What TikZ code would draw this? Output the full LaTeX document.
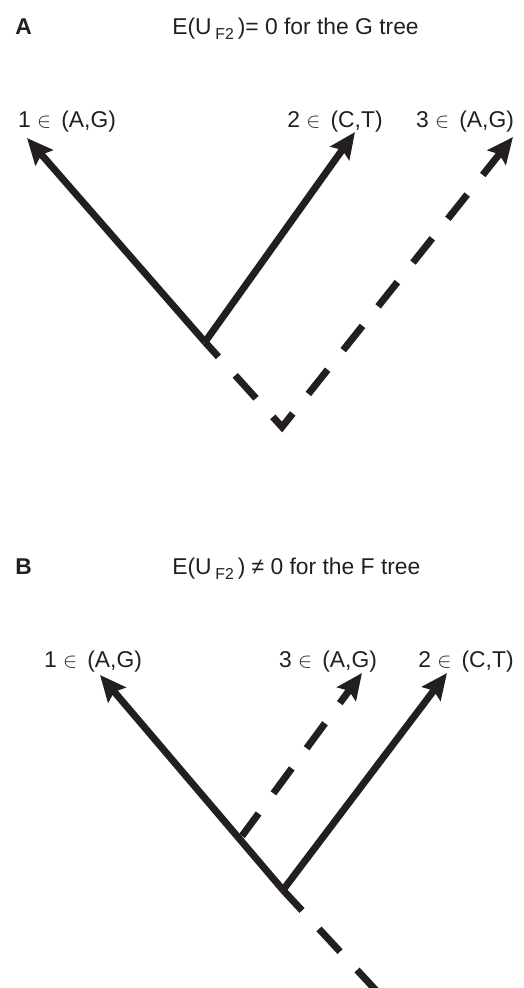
\documentclass[tikz,border=0pt]{standalone}
\usepackage{fontspec}
\setmainfont{Liberation Sans}
\usetikzlibrary{arrows.meta}
\definecolor{tinta}{RGB}{35,31,32}
\begin{document}
\begin{tikzpicture}[x=0.02cm, y=-0.02cm,
  rama/.style={line width=0.14cm, draw=tinta,
    -{Stealth[length=0.52cm, width=0.46cm, inset=0.08cm]}},
  rayas/.style={dash pattern=on 0.62cm off 0.5cm},
  texto/.style={inner sep=0pt, text=tinta, font=\fontsize{13}{15}\selectfont},
  etiqueta/.style={texto, anchor=base},
  titulo/.style={texto, anchor=base west}]
  \useasboundingbox (0,0) rectangle (524,988);
  % Panel A: arbol G
  \node[titulo, font=\fontsize{13}{15}\selectfont\bfseries] (letraA) at (15,34) {A};
  \node[titulo] (tituloA) at (172,34)
    {E(U\,\raisebox{-0.45ex}{\fontsize{9}{10}\selectfont F2}\,)= 0 for the G tree};
  \node[etiqueta] (etA1) at (67,127) {1 $\in$ \,(A,G)};
  \node[etiqueta] (etA2) at (335,127) {2 $\in$ \,(C,T)};
  \node[etiqueta] (etA3) at (465,127) {3 $\in$ \,(A,G)};
  \coordinate (a1) at (27,138);
  \coordinate (a2) at (355,132);
  \coordinate (a3) at (513,137);
  \coordinate (anudo) at (205,342);
  \coordinate (araiz) at (282,427);
  \draw[rama] (anudo) -- (a1);
  \draw[rama] (anudo) -- (a2);
  \draw[rama, rayas, dash phase=0.22cm] (anudo) -- (araiz) -- (a3); % rama 3 discontinua
  % Panel B: arbol F
  \node[titulo, font=\fontsize{13}{15}\selectfont\bfseries] (letraB) at (15,574) {B};
  \node[titulo] (tituloB) at (172,574)
    {E(U\,\raisebox{-0.45ex}{\fontsize{9}{10}\selectfont F2}\,) ≠ 0 for the F tree};
  \node[etiqueta] (etB1) at (93,667) {1 $\in$ \,(A,G)};
  \node[etiqueta] (etB3) at (328,667) {3 $\in$ \,(A,G)};
  \node[etiqueta] (etB2) at (466,667) {2 $\in$ \,(C,T)};
  \coordinate (b1) at (100,675);
  \coordinate (b3) at (362,673);
  \coordinate (b2) at (447,673);
  \coordinate (bnudo) at (242,836);
  \coordinate (braiz) at (283,890);
  \coordinate (bfin) at (383,998);
  \draw[rama] (braiz) -- (b1);
  \draw[rama] (braiz) -- (b2);
  \draw[rama, rayas, dash phase=0.06cm] (bnudo) -- (b3);
  \draw[rama, rayas, -, dash phase=0.06cm] (braiz) -- (bfin); % raiz
\end{tikzpicture}
\end{document}
